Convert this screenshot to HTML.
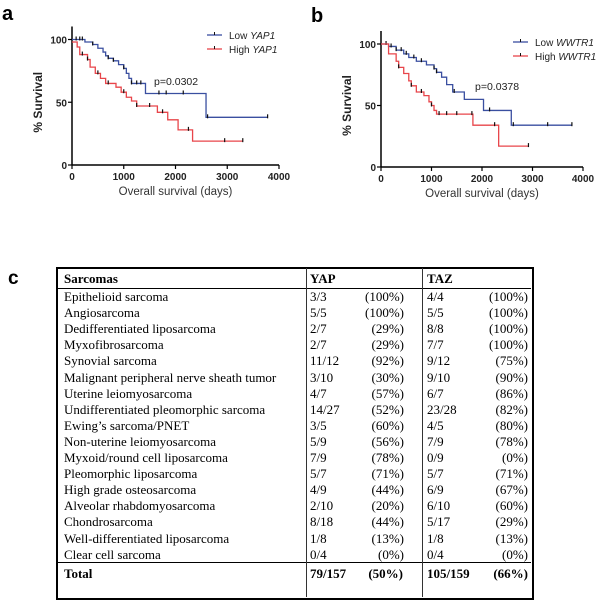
<!DOCTYPE html>
<html><head><meta charset="utf-8"><style>
body{margin:0;background:#fff;width:600px;height:605px;position:relative;overflow:hidden;font-family:"Liberation Sans",sans-serif}
svg{position:absolute;left:0;top:0}
.t{position:absolute;font-family:"Liberation Serif",serif;font-size:13px;line-height:16px;white-space:nowrap;color:#000}
.r{text-align:right}
.b{font-weight:bold}
</style></head><body>
<svg id="sv" width="600" height="320"></svg>
<div id="tbl"></div>
<script>
// Panel a data
const aLowX=[0,150,250,400,500,600,650,700,800,900,1000,1050,1100,1150,1420,2590,3780];
const aLowY=[100,100,98,96,93,90,87,85,83,80,77,73,69,65,57,38,38];
const aHighX=[0,100,150,300,350,450,550,650,850,950,1050,1150,1250,1650,1850,2050,2330,3300];
const aHighY=[98,94,88,84,78,73,69,65,62,58,54,51,47,42,36,28,19,19];
const aLowCens=[80,150,200,400,700,800,1000,1150,1250,1330,1680,1820,2150,2620,3780];
const aHighCens=[200,300,500,700,1000,1250,1500,1750,2250,2950,3300];
// Panel b data
const bLowX=[0,150,300,450,550,700,900,1050,1100,1200,1300,1420,1650,2030,2580,3780];
const bLowY=[100,98,95,92,89,86,83,80,77,73,67,61,55,46,34,34];
const bHighX=[0,150,300,350,450,550,600,700,850,950,1000,1050,1100,1820,2330,2920];
const bHighY=[100,92,86,81,76,70,66,61,58,53,50,46,43,34,17,17];
const bLowCens=[100,200,300,400,500,650,800,1050,1100,1450,2150,2620,3300,3780];
const bHighCens=[350,600,800,1000,1150,1300,1500,1800,2250,2920];
const xTicks=[0,1000,2000,3000,4000];
const yTicks=[0,50,100];

const NS="http://www.w3.org/2000/svg";
const sv=document.getElementById('sv');
function mk(tag,at,txt){const e=document.createElementNS(NS,tag);for(const k in at)e.setAttribute(k,at[k]);if(txt!=null)e.textContent=txt;sv.appendChild(e);return e;}
let c=mk('text',{x:8,y:284,'font-size':19,'font-weight':'bold'},'c');


function panel(p){
  const sx=v=>p.x0+(v/4000)*(p.x1-p.x0);
  const sy=v=>p.y0-(v/100)*(p.y0-p.y100);
  let e=mk('text',{x:p.lx,y:p.ly,'font-size':20,'font-weight':'bold'},p.letter);
  
  
  e=mk('line',{x1:p.x0,y1:p.y0,x2:p.x0,y2:p.y100-13,stroke:'#000','stroke-width':1.5});
  
  
  e=mk('line',{x1:p.x0,y1:p.y0,x2:p.x1,y2:p.y0,stroke:'#000','stroke-width':1.5});
  
  
  xTicks.forEach(t=>{mk('line',{x1:sx(t),y1:p.y0,x2:sx(t),y2:p.y0+4,stroke:'#000','stroke-width':1.2});
    e=mk('text',{x:sx(t),y:p.y0+15,'font-size':10,'font-weight':'bold','text-anchor':'middle',fill:'#222'},t);
    
    });
  yTicks.forEach(t=>{mk('line',{x1:p.x0-4,y1:sy(t),x2:p.x0,y2:sy(t),stroke:'#000','stroke-width':1.2});
    e=mk('text',{x:p.x0-5,y:sy(t)+4,'font-size':10,'font-weight':'bold','text-anchor':'end',fill:'#222'},t);
    
    });
  e=mk('text',{x:(p.x0+p.x1)/2,y:p.y0+30,'font-size':11.5,'text-anchor':'middle',fill:'#333'},'Overall survival (days)');
  
  
  const yc=(p.y0+p.y100)/2;
  e=mk('text',{x:p.x0-30,y:yc,'font-size':12,'font-weight':'bold','text-anchor':'middle',transform:`rotate(-90 ${p.x0-30} ${yc})`,fill:'#222'},'% Survival');
  
  
  function step(X,Y,col,cens,name){
    let d=`M${sx(X[0])},${sy(Y[0])}`;
    for(let i=1;i<X.length;i++){d+=`H${sx(X[i])}V${sy(Y[i])}`;}
    let e=mk('path',{d:d,fill:'none',stroke:col,'stroke-width':1.3});
    
    
    cens.forEach(c=>{let y=Y[0];for(let i=0;i<X.length;i++){if(X[i]<=c)y=Y[i];}
      let m=mk('line',{x1:sx(c),y1:sy(y)-3,x2:sx(c),y2:sy(y)+1,stroke:'#111','stroke-width':1.2});
      
      });
  }
  step(p.lowX,p.lowY,'#3a4fa0',p.lowC,'low-series-line');
  step(p.highX,p.highY,'#e8454a',p.highC,'high-series-line');
  e=mk('text',{x:p.px,y:p.py,'font-size':10.5,fill:'#222'},p.pval);
  
  
  [[p.lowLbl,'#3a4fa0',0],[p.highLbl,'#e8454a',14]].forEach(([l,c,dy],i)=>{
    const ly=p.legY+dy;
    let g=mk('line',{x1:p.legX,y1:ly,x2:p.legX+15,y2:ly,stroke:c,'stroke-width':1.3});
    
    
    mk('line',{x1:p.legX+7.5,y1:ly-3,x2:p.legX+7.5,y2:ly,stroke:'#111','stroke-width':1});
    const t=mk('text',{x:p.legX+22,y:ly+4,'font-size':10,fill:'#222'});
    
    
    const a=document.createElementNS(NS,'tspan');a.textContent=i?'High ':'Low ';t.appendChild(a);
    const b=document.createElementNS(NS,'tspan');b.setAttribute('font-style','italic');b.textContent=l;t.appendChild(b);
  });
}
panel({letter:'a',lx:2,ly:20,x0:72,x1:279,y0:165,y100:39.5,lowX:aLowX,lowY:aLowY,highX:aHighX,highY:aHighY,lowC:aLowCens,highC:aHighCens,px:154,py:85,pval:'p=0.0302',legX:207,legY:35,lowLbl:'YAP1',highLbl:'YAP1'});
panel({letter:'b',lx:311,ly:22,x0:381,x1:583,y0:167,y100:44,lowX:bLowX,lowY:bLowY,highX:bHighX,highY:bHighY,lowC:bLowCens,highC:bHighCens,px:475,py:90,pval:'p=0.0378',legX:513,legY:42,lowLbl:'WWTR1',highLbl:'WWTR1'});

// Table
const names=["Epithelioid sarcoma","Angiosarcoma","Dedifferentiated liposarcoma","Myxofibrosarcoma","Synovial sarcoma","Malignant peripheral nerve sheath tumor","Uterine leiomyosarcoma","Undifferentiated pleomorphic sarcoma","Ewing\u2019s sarcoma/PNET","Non-uterine leiomyosarcoma","Myxoid/round cell liposarcoma","Pleomorphic liposarcoma","High grade osteosarcoma","Alveolar rhabdomyosarcoma","Chondrosarcoma","Well-differentiated liposarcoma","Clear cell sarcoma"];
const yapF=["3/3","5/5","2/7","2/7","11/12","3/10","4/7","14/27","3/5","5/9","7/9","5/7","4/9","2/10","8/18","1/8","0/4"];
const yapP=["(100%)","(100%)","(29%)","(29%)","(92%)","(30%)","(57%)","(52%)","(60%)","(56%)","(78%)","(71%)","(44%)","(20%)","(44%)","(13%)","(0%)"];
const tazF=["4/4","5/5","8/8","7/7","9/12","9/10","6/7","23/28","4/5","7/9","0/9","5/7","6/9","6/10","5/17","1/8","0/4"];
const tazP=["(100%)","(100%)","(100%)","(100%)","(75%)","(90%)","(86%)","(82%)","(80%)","(78%)","(0%)","(71%)","(67%)","(60%)","(29%)","(13%)","(0%)"];
const tb=document.getElementById('tbl');
function box(x,y,w,h,st,name){const d=document.createElement('div');d.style.cssText=`position:absolute;left:${x}px;top:${y}px;width:${w}px;height:${h}px;${st}`;
  
  
  tb.appendChild(d);}
box(56,267,474,329,'border:2.5px solid #000;','table-border');
box(58,288,473,0,'border-top:1.5px solid #000;','header-rule');
box(58,562,473,0,'border-top:1.5px solid #000;','total-rule');
box(306,268,0,329,'border-left:1.3px solid #333;','yap-col-rule');
box(422,268,0,329,'border-left:1.3px solid #333;','taz-col-rule');
function txt(x,y,s,cls,name,w){const d=document.createElement('div');d.className='t '+(cls||'');d.textContent=s;
  d.style.left=x+'px';d.style.top=y+'px';if(w){d.style.width=w+'px';}
  
  
  tb.appendChild(d);}
txt(64,271,'Sarcomas','b','header-sarcomas');
txt(310,271,'YAP','b','header-yap');
txt(427,271,'TAZ','b','header-taz');
names.forEach((n,i)=>{const y=289+i*16.1;
  txt(64,y,n,'','row-name');
  txt(310,y,yapF[i],'','yap-fraction');
  txt(340,y,yapP[i],'r','yap-percent',64);
  txt(427,y,tazF[i],'','taz-fraction');
  txt(460,y,tazP[i],'r','taz-percent',68);
});
txt(64,566,'Total','b','total-label');
txt(310,566,'79/157','b','total-yap-fraction');
txt(340,566,'(50%)','b r','total-yap-percent',63);
txt(427,566,'105/159','b','total-taz-fraction');
txt(460,566,'(66%)','b r','total-taz-percent',68);
</script>
</body></html>
